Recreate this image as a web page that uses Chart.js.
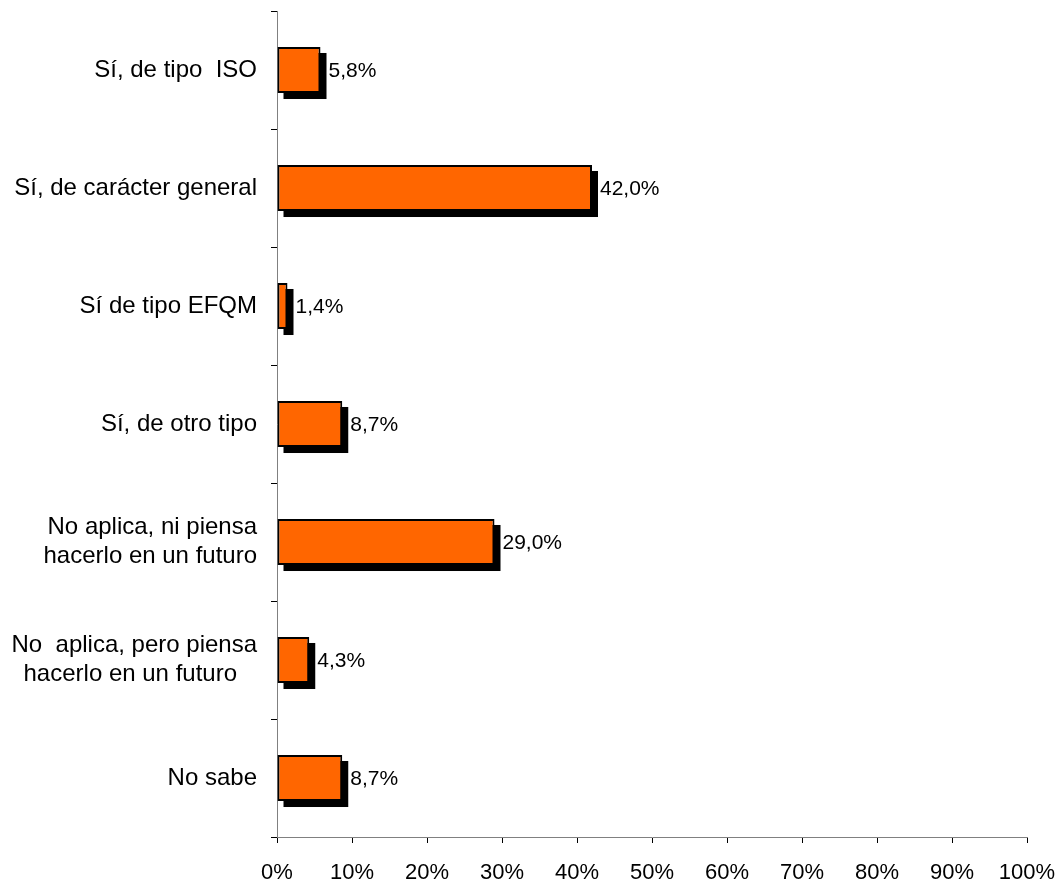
<!DOCTYPE html>
<html>
<head>
<meta charset="utf-8">
<script src="https://cdn.jsdelivr.net/npm/chart.js@4/dist/chart.umd.min.js"></script>
<style>
html,body{margin:0;padding:0;background:#fff;}
#wrap{width:1063px;height:884px;position:relative;}
</style>
</head>
<body>
<div id="wrap"><canvas id="c" width="1063" height="884"></canvas></div>
<script>
const categories = [
  "Sí, de tipo  ISO",
  "Sí, de carácter general",
  "Sí de tipo EFQM",
  "Sí, de otro tipo",
  ["No aplica, ni piensa", "hacerlo en un futuro"],
  ["No  aplica, pero piensa", "hacerlo en un futuro   "],
  "No sabe"
];
const values = [5.8, 42.0, 1.4, 8.7, 29.0, 4.3, 8.7];
const xTicks = [0, 10, 20, 30, 40, 50, 60, 70, 80, 90, 100];

const FONT = "'Liberation Sans', Arial, sans-serif";

const shadowPlugin = {
  id: 'shadow',
  beforeDatasetsDraw(chart) {
    const ctx = chart.ctx;
    const meta = chart.getDatasetMeta(0);
    ctx.save();
    ctx.fillStyle = '#000';
    meta.data.forEach(el => {
      const p = el.getProps(['x', 'y', 'base', 'height'], true);
      const off = 6;
      ctx.fillRect(p.base + off, p.y - p.height / 2 + off, p.x - p.base, p.height);
    });
    ctx.restore();
  }
};

const labelPlugin = {
  id: 'vlabels',
  afterDatasetsDraw(chart) {
    const ctx = chart.ctx;
    const meta = chart.getDatasetMeta(0);
    ctx.save();
    ctx.fillStyle = '#000';
    ctx.font = "21px " + FONT;
    ctx.textAlign = 'left';
    ctx.textBaseline = 'middle';
    meta.data.forEach((el, i) => {
      const p = el.getProps(['x', 'y'], true);
      ctx.fillText(values[i].toFixed(1).replace('.', ',') + '%', p.x + 8, p.y + 1);
    });
    ctx.restore();
  }
};

new Chart(document.getElementById('c'), {
  type: 'bar',
  data: {
    labels: categories,
    datasets: [{
      data: values,
      backgroundColor: '#FF6600',
      borderColor: '#000000',
      borderWidth: 2,
      borderSkipped: false,
      barPercentage: 0.39,
      categoryPercentage: 1.0
    }]
  },
  options: {
    indexAxis: 'y',
    responsive: false,
    animation: false,
    devicePixelRatio: 1,
    layout: { padding: { top: 11, right: 36, left: 0, bottom: 0 } },
    plugins: {
      legend: { display: false },
      tooltip: { enabled: false }
    },
    scales: {
      x: {
        type: 'linear',
        min: 0,
        max: 100,
        afterBuildTicks(scale) {
          scale.ticks = xTicks.map(v => ({ value: v }));
        },
        afterFit(scale) {
          scale.height = 47;
          scale.paddingLeft = 0;
          scale.paddingRight = 0;
        },
        grid: {
          drawOnChartArea: false,
          drawTicks: true,
          tickLength: 6,
          color: '#000'
        },
        border: { display: true, color: '#808080', width: 1 },
        ticks: {
          color: '#000',
          font: { family: FONT, size: 22 },
          padding: 17,
          callback: v => v + '%'
        }
      },
      y: {
        afterFit(scale) {
          scale.width = 277;
          scale.paddingTop = 0;
          scale.paddingBottom = 0;
        },
        grid: {
          drawOnChartArea: false,
          drawTicks: true,
          tickLength: 6,
          offset: true,
          color: '#000'
        },
        border: { display: true, color: '#808080', width: 1 },
        ticks: {
          color: '#000',
          font: { family: FONT, size: 24, lineHeight: 1.2 },
          padding: 14
        }
      }
    }
  },
  plugins: [shadowPlugin, labelPlugin]
});
</script>
</body>
</html>
